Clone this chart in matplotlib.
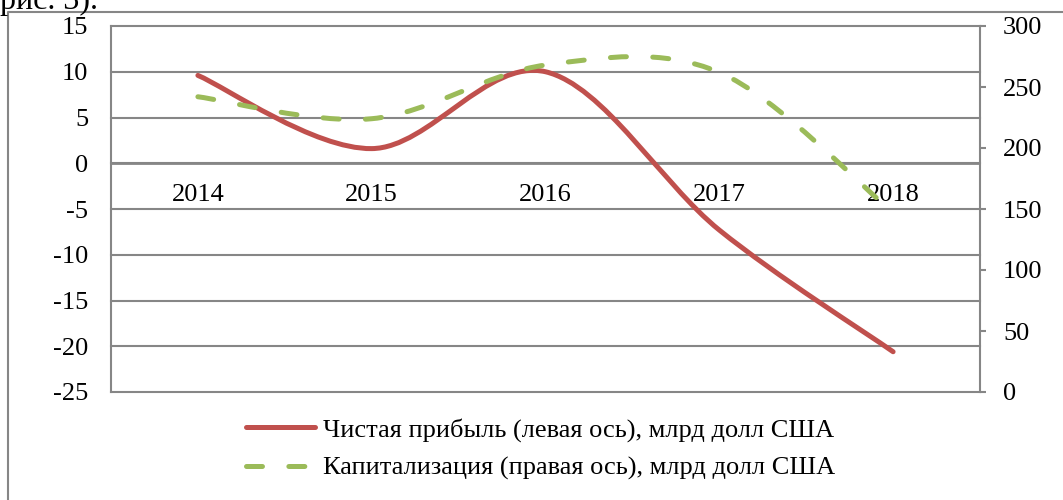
import numpy as np
import matplotlib
matplotlib.use("Agg")
import matplotlib.pyplot as plt
from matplotlib.path import Path
from matplotlib.patches import PathPatch
from matplotlib.lines import Line2D

# ── data ──────────────────────────────────────
years = ["2014", "2015", "2016", "2017", "2018"]
profit = [9.6, 1.6, 10.0, -7.3, -20.6]        # левая ось
capital = [242, 224, 268, 262, 147]           # правая ось

label_profit = "Чистая прибыль (левая ось), млрд долл США"
label_capital = "Капитализация (правая ось), млрд долл США"

RED = "#C0504D"
GREEN = "#9BBB59"
GRID = "#868686"

plt.rcParams["font.family"] = ["Liberation Serif", "DejaVu Serif"]
plt.rcParams["font.size"] = 19
plt.rcParams["axes.unicode_minus"] = False
plt.rcParams["lines.scale_dashes"] = False


def smooth_path(x, y):
    # excel-like smoothed line: cubic bezier segments through the points
    x = np.asarray(x, float)
    y = np.asarray(y, float)
    pts = np.column_stack([x, y])
    n = len(pts)
    verts = [pts[0]]
    codes = [Path.MOVETO]
    for i in range(n - 1):
        p_prev = pts[i - 1] if i > 0 else pts[i]
        p_next2 = pts[i + 2] if i + 2 < n else pts[i + 1]
        c1 = pts[i] + (pts[i + 1] - p_prev) / 6
        c2 = pts[i + 1] - (p_next2 - pts[i]) / 6
        verts += [c1, c2, pts[i + 1]]
        codes += [Path.CURVE4] * 3
    return Path(verts, codes)


fig = plt.figure(figsize=(10.63, 5.0), dpi=100)
ax = fig.add_axes([111 / 1063, 108 / 500, 869 / 1063, 366 / 500])
ax2 = ax.twinx()

xs = np.arange(len(years))

# левая ось
ax.set_xlim(-0.5, len(years) - 0.5)
ax.set_ylim(-25, 15)
ax.set_yticks(np.arange(-25, 16, 5))
ax.grid(axis="y", color=GRID, lw=1.5)
for gl in ax.get_ygridlines():
    gl.set_clip_on(False)
ax.set_axisbelow(True)
ax.tick_params(axis="y", length=0, pad=16.5)
ax.set_xticks(xs)
ax.set_xticklabels(years)
ax.tick_params(axis="x", length=0, pad=15)
ax.spines["bottom"].set_position(("data", 0))
ax.spines["bottom"].set_color(GRID)
ax.spines["bottom"].set_linewidth(2)
ax.spines["bottom"].set_capstyle("butt")
ax.spines["left"].set_color(GRID)
ax.spines["left"].set_linewidth(1.5)
ax.spines["top"].set_visible(False)
ax.spines["right"].set_visible(False)

ax.add_patch(PathPatch(smooth_path(xs, profit), fill=False, edgecolor=RED,
                       lw=3.6, capstyle="round", joinstyle="round", zorder=3))

# правая ось
ax2.set_ylim(0, 300)
ax2.set_yticks(np.arange(0, 301, 50))
ax2.tick_params(axis="y", direction="out", length=4.5, width=1.5,
                color=GRID, pad=12)
for s in ["top", "bottom", "left"]:
    ax2.spines[s].set_visible(False)
ax2.spines["right"].set_color(GRID)
ax2.spines["right"].set_linewidth(1.5)

ax2.add_patch(PathPatch(smooth_path(xs, capital), fill=False, edgecolor=GREEN,
                        lw=3.6, linestyle=(0, (11.5, 19)), capstyle="round",
                        zorder=3))

# легенда
handles = [
    Line2D([], [], color=RED, lw=3.6, solid_capstyle="round"),
    Line2D([], [], color=GREEN, lw=3.6, linestyle=(0, (11.5, 19)),
           dash_capstyle="round"),
]
fig.legend(handles, [label_profit, label_capital], loc="upper left",
           bbox_to_anchor=(246 / 1063, 1 - 418 / 500), frameon=False,
           borderpad=0, borderaxespad=0, handlelength=2.6,
           handletextpad=0.3, labelspacing=0.55)

# рамка и обрезанная подпись сверху
fig.add_artist(Line2D([8.3 / 1063, 8.3 / 1063, 1.0], [0, 1 - 11.7 / 500, 1 - 11.7 / 500],
                      color=GRID, lw=1.5))
fig.text(98 / 1063, 1 - 9 / 500, "рис. 3).", ha="right", va="baseline",
         fontsize=23)

fig.savefig("out.png", dpi=100)
